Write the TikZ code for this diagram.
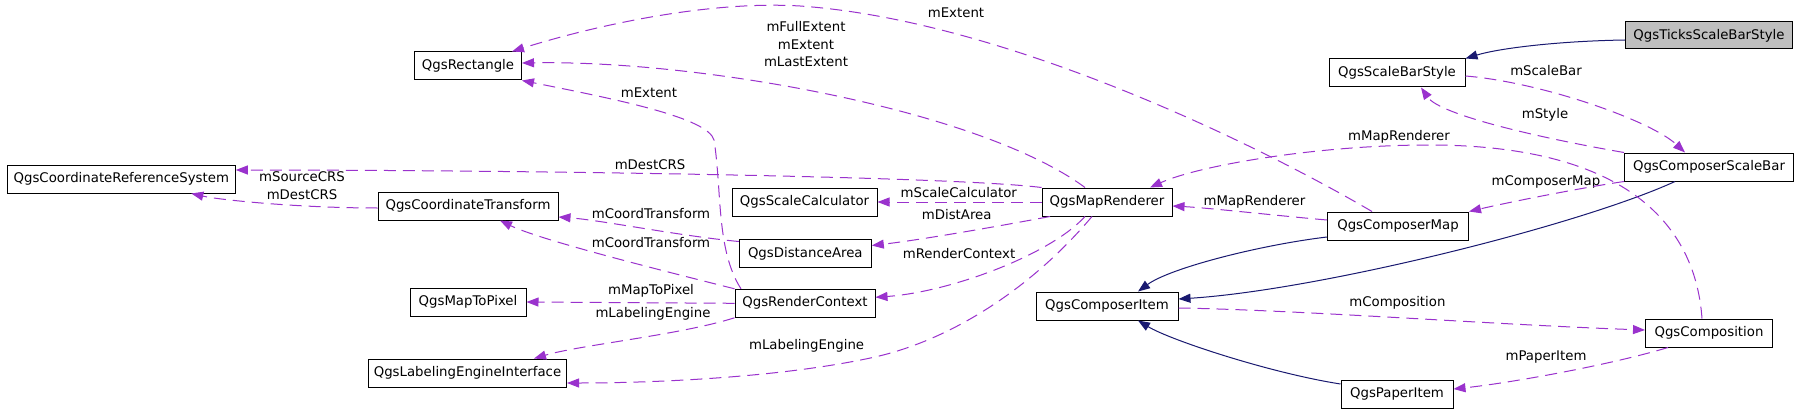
\documentclass[tikz,border=0pt]{standalone}
\usepackage{fontspec}
\setmainfont{DejaVu Sans}
\usepackage{tikz}
\usetikzlibrary{shapes,arrows.meta}
\definecolor{useColor}{HTML}{9A32CD}
\definecolor{inheritColor}{HTML}{191970}
\definecolor{leafFill}{HTML}{BFBFBF}
\newcommand{\diagfont}{\fontsize{13.3}{17.5}\selectfont}
\tikzstyle{block} = [draw,rectangle,fill=white,line width=1pt,minimum height=28pt,inner sep=0pt,font=\diagfont]
\tikzstyle{lbl} = [inner sep=0pt,font=\diagfont,align=center]
\tikzstyle{useLine} = [draw,useColor,line width=1pt,dash pattern=on 12pt off 7pt,-{Triangle[length=12pt,width=9pt]}]
\tikzstyle{inheritLine} = [draw,inheritColor,line width=1pt,-{Triangle[length=12pt,width=9pt]}]
\begin{document}
\begin{tikzpicture}[x=1pt,y=-1pt]
		\fill[white](0,0)rectangle(1797,412);
		\useasboundingbox(0,0)rectangle(1797,412);
		\node[block,fill=leafFill,minimum width=167pt,minimum height=27pt](ticksScaleBarStyle) at (1709,35.5){QgsTicksScaleBarStyle};
		\node[block,minimum width=136pt](scaleBarStyle) at (1397,73){QgsScaleBarStyle};
		\node[block,minimum width=169pt](composerScaleBar) at (1709,167){QgsComposerScaleBar};
		\node[block,minimum width=141pt](composerMap) at (1398,226){QgsComposerMap};
		\node[block,minimum width=127pt](composition) at (1709,333){QgsComposition};
		\node[block,minimum width=112pt](paperItem) at (1397,394){QgsPaperItem};
		\node[block,minimum width=142pt](composerItem) at (1107,306){QgsComposerItem};
		\node[block,minimum width=130pt](mapRenderer) at (1107,202){QgsMapRenderer};
		\node[block,minimum width=145pt](scaleCalculator) at (804.5,202){QgsScaleCalculator};
		\node[block,minimum width=132pt](distanceArea) at (805.3,253.5){QgsDistanceArea};
		\node[block,minimum width=140pt](renderContext) at (805,303.3){QgsRenderContext};
		\node[block,minimum width=107pt](rect) at (468,66){QgsRectangle};
		\node[block,minimum width=228pt](crs) at (121.3,179){QgsCoordinateReferenceSystem};
		\node[block,minimum width=180pt](coordTransform) at (468,206){QgsCoordinateTransform};
		\node[block,minimum width=116pt](mapToPixel) at (468,302){QgsMapToPixel};
		\node[block,minimum width=198pt](labelingEngine) at (467.5,373){QgsLabelingEngineInterface};
		%labels
		\node[lbl](lblScaleBar) at (1546,71){mScaleBar};
		\node[lbl](lblStyle) at (1545,115){mStyle};
		\node[lbl](lblMapRendererTop) at (1399,137){mMapRenderer};
		\node[lbl](lblComposerMap) at (1546,182){mComposerMap};
		\node[lbl](lblMapRenderer) at (1254.5,202){mMapRenderer};
		\node[lbl](lblComposition) at (1397.4,303){mComposition};
		\node[lbl](lblPaperItem) at (1546,357){mPaperItem};
		\node[lbl](lblExtentTop) at (956,12.7){mExtent};
		\node[lbl](lblExtents) at (806,44.3){mFullExtent\\mExtent\\mLastExtent};
		\node[lbl](lblExtent) at (649,92.7){mExtent};
		\node[lbl](lblDestCrs) at (650,165){mDestCRS};
		\node[lbl](lblCrs) at (302,185.5){mSourceCRS\\mDestCRS};
		\node[lbl](lblScaleCalculator) at (958.8,192.7){mScaleCalculator};
		\node[lbl](lblDistArea) at (956.7,215){mDistArea};
		\node[lbl](lblRenderContext) at (959,254){mRenderContext};
		\node[lbl](lblLabelingEngineBig) at (806.6,346){mLabelingEngine};
		\node[lbl](lblCoordTransformA) at (651,214){mCoordTransform};
		\node[lbl](lblCoordTransformB) at (651,242.3){mCoordTransform};
		\node[lbl](lblMapToPixel) at (651,290.7){mMapToPixel};
		\node[lbl](lblLabelingEngine) at (653,314){mLabelingEngine};
		%arrows
		\path[inheritLine]([yshift=-4.5pt]ticksScaleBarStyle.west) .. controls (1560,41) and (1500,48) .. (scaleBarStyle.north east);
		\path[useLine]([yshift=-3pt]scaleBarStyle.east) .. controls (1540,82) and (1650,120) .. ([xshift=-24pt]composerScaleBar.north);
		\path[useLine](composerScaleBar.north west) .. controls (1540,138) and (1440,115) .. ([xshift=24pt]scaleBarStyle.south);
		\path[useLine](composerScaleBar.south west) .. controls (1580,188) and (1510,202) .. (composerMap.north east);
		\path[inheritLine]([xshift=-34pt]composerScaleBar.south) .. controls (1580,225) and (1320,290) .. ([yshift=7pt]composerItem.east);
		\path[inheritLine]([yshift=-11pt]composerMap.west) .. controls (1260,245) and (1170,268) .. ([xshift=31pt]composerItem.north);
		\path[inheritLine]([yshift=10pt]paperItem.west) .. controls (1270,373) and (1170,340) .. ([xshift=31pt]composerItem.south);
		\path[useLine]([yshift=-2pt]composerItem.east) .. controls (1300,310) and (1500,325) .. ([yshift=3pt]composition.west);
		\path[useLine]([xshift=-41pt]composition.south) .. controls (1610,365) and (1510,383) .. ([yshift=5pt]paperItem.east);
		\path[useLine]([xshift=-7pt]composition.north) .. controls (1695,220) and (1620,145) .. (1429,145) .. controls (1320,145) and (1200,165) .. ([xshift=43pt]mapRenderer.north);
		\path[useLine]([yshift=6pt]composerMap.west) .. controls (1280,216) and (1210,208) .. ([yshift=-4pt]mapRenderer.east);
		\path[useLine]([xshift=-26pt]composerMap.north) .. controls (1250,140) and (1000,20) .. (800,6) .. controls (700,0) and (580,30) .. ([xshift=44pt]rect.north);
		\path[useLine]([xshift=-22pt]mapRenderer.north) .. controls (980,110) and (700,60) .. ([yshift=3pt]rect.east);
		\path[useLine]([xshift=-64pt]renderContext.north) .. controls (716,250) and (722,190) .. (714,140) .. controls (708,118) and (620,100) .. (rect.south east);
		\path[useLine](mapRenderer.north west) .. controls (950,176) and (500,170) .. ([yshift=9pt]crs.east);
		\path[useLine]([yshift=-2pt]coordTransform.west) .. controls (300,208) and (220,200) .. ([xshift=70pt]crs.south);
		\path[useLine](mapRenderer.west)--(scaleCalculator.east);
		\path[useLine]([xshift=-57pt]mapRenderer.south) .. controls (1000,226) and (920,240) .. ([yshift=8pt]distanceArea.east);
		\path[useLine]([xshift=-22pt]mapRenderer.south) .. controls (1050,255) and (950,292) .. ([yshift=6pt]renderContext.east);
		\path[useLine]([xshift=-15pt]mapRenderer.south) .. controls (1030,290) and (950,340) .. (875,357) .. controls (780,378) and (650,383) .. ([yshift=-10pt]labelingEngine.east);
		\path[useLine]([yshift=12pt]distanceArea.west) .. controls (680,236) and (600,220) .. ([yshift=-11pt]coordTransform.east);
		\path[useLine](renderContext.north west) .. controls (660,270) and (540,240) .. ([xshift=32pt]coordTransform.south);
		\path[useLine](renderContext.west)--(mapToPixel.east);
		\path[useLine](renderContext.south west) .. controls (680,335) and (580,345) .. ([xshift=66.5pt]labelingEngine.north);
\end{tikzpicture}
\end{document}
